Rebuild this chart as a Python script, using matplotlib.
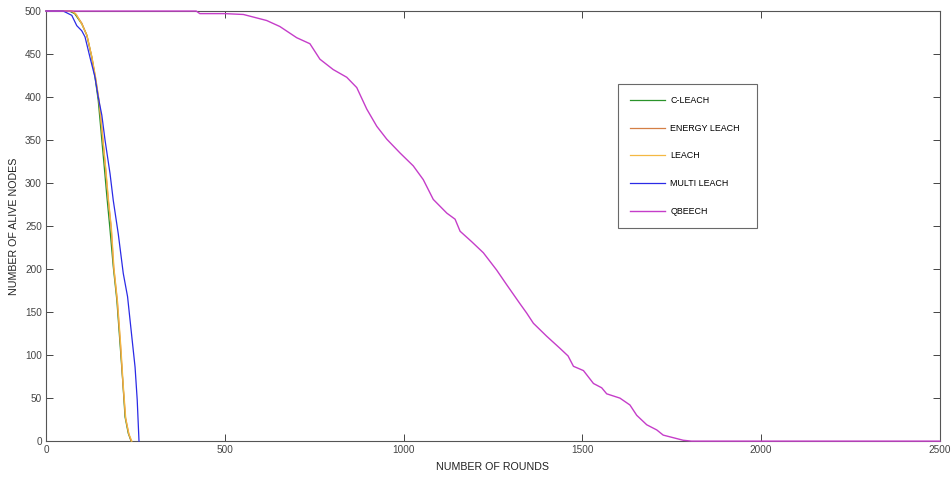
import numpy as np
from matplotlib import pyplot as plt

plt.rcParams['font.family'] = ['Liberation Sans', 'DejaVu Sans']

# rounds / alive nodes
cleach_x = [0, 65, 80, 100, 114, 128, 137, 146, 156, 163, 170, 178, 188, 198, 207, 215, 221, 230, 238]
cleach_y = [500, 500, 497, 485, 472, 446, 423, 396, 350, 318, 285, 250, 203, 164, 113, 67, 28, 9, 0]

energy_x = [0, 70, 82, 100, 114, 128, 138, 148, 157, 166, 174, 182, 189, 199, 208, 215, 222, 231, 238]
energy_y = [500, 500, 497, 486, 472, 447, 423, 396, 358, 319, 280, 249, 203, 164, 113, 67, 28, 9, 0]

leach_x = [0, 74, 85, 101, 115, 129, 139, 149, 158, 167, 175, 183, 190, 200, 209, 216, 223, 232, 240]
leach_y = [500, 500, 496, 484, 471, 445, 422, 394, 356, 317, 279, 247, 201, 162, 111, 65, 26, 8, 0]

multi_x = [0, 48, 72, 86, 100, 109, 123, 137, 146, 156, 165, 179, 188, 202, 216, 228, 240, 249, 255, 260]
multi_y = [500, 500, 495, 483, 477, 470, 446, 423, 400, 379, 350, 311, 280, 241, 195, 168, 121, 86, 48, 0]

qbeech_x = [0, 420, 430, 500, 552, 617, 654, 701, 738, 766, 803, 841, 869, 897, 925, 953, 990,
            1027, 1055, 1083, 1121, 1144, 1158, 1190, 1223, 1260, 1288, 1325, 1344, 1363, 1400,
            1437, 1460, 1475, 1503, 1531, 1554, 1568, 1605, 1633, 1652, 1680, 1708, 1726, 1754,
            1782, 1805, 2500]
qbeech_y = [500, 500, 497, 497, 496, 489, 482, 469, 462, 444, 432, 423, 411, 386, 366, 351, 335,
            320, 304, 281, 265, 258, 244, 232, 219, 199, 182, 160, 149, 137, 122,
            108, 99, 87, 82, 67, 62, 55, 50, 42, 30, 19, 13, 7, 4,
            1, 0, 0]

fig = plt.figure(figsize=(9.53, 4.8), dpi=100)
ax = fig.add_axes([0.0483, 0.081, 0.938, 0.896])

ax.plot(cleach_x, cleach_y, color="#2a932a", lw=0.9, label="C-LEACH", zorder=3, clip_on=False)
ax.plot(energy_x, energy_y, color="#d47f45", lw=0.9, label="ENERGY LEACH", zorder=3, clip_on=False)
ax.plot(leach_x, leach_y, color="#f4b843", lw=0.9, label="LEACH", zorder=3, clip_on=False)
ax.plot(multi_x, multi_y, color="#2b2be6", lw=0.9, label="MULTI LEACH", zorder=3, clip_on=False)
ax.plot(qbeech_x, qbeech_y, color="#c53dc9", lw=1.0, label="QBEECH", zorder=3, clip_on=False)

ax.set_xlim(0, 2500)
ax.set_ylim(0, 500)
ax.set_xticks(np.arange(0, 2501, 500))
ax.set_yticks(np.arange(0, 501, 50))
ax.tick_params(direction="in", top=True, right=True, length=5, width=0.7,
               colors="#444444", labelsize=7.2, pad=3)
for s in ax.spines.values():
    s.set_color("#555555")
    s.set_linewidth(0.8)

ax.set_xlabel("NUMBER OF ROUNDS", fontsize=7.7, color="#222222", labelpad=5)
ax.set_ylabel("NUMBER OF ALIVE NODES", fontsize=7.7, color="#222222", labelpad=4)

leg = ax.legend(loc="upper left", bbox_to_anchor=(0.640, 0.498, 0.155, 0.332), mode="expand",
                fontsize=6.4, frameon=True, fancybox=False, edgecolor="#444444", handlelength=3.9,
                handletextpad=0.6, labelspacing=2.1, borderpad=1.35, borderaxespad=0)
leg.get_frame().set_linewidth(0.8)

plt.savefig("out.png", dpi=100)
